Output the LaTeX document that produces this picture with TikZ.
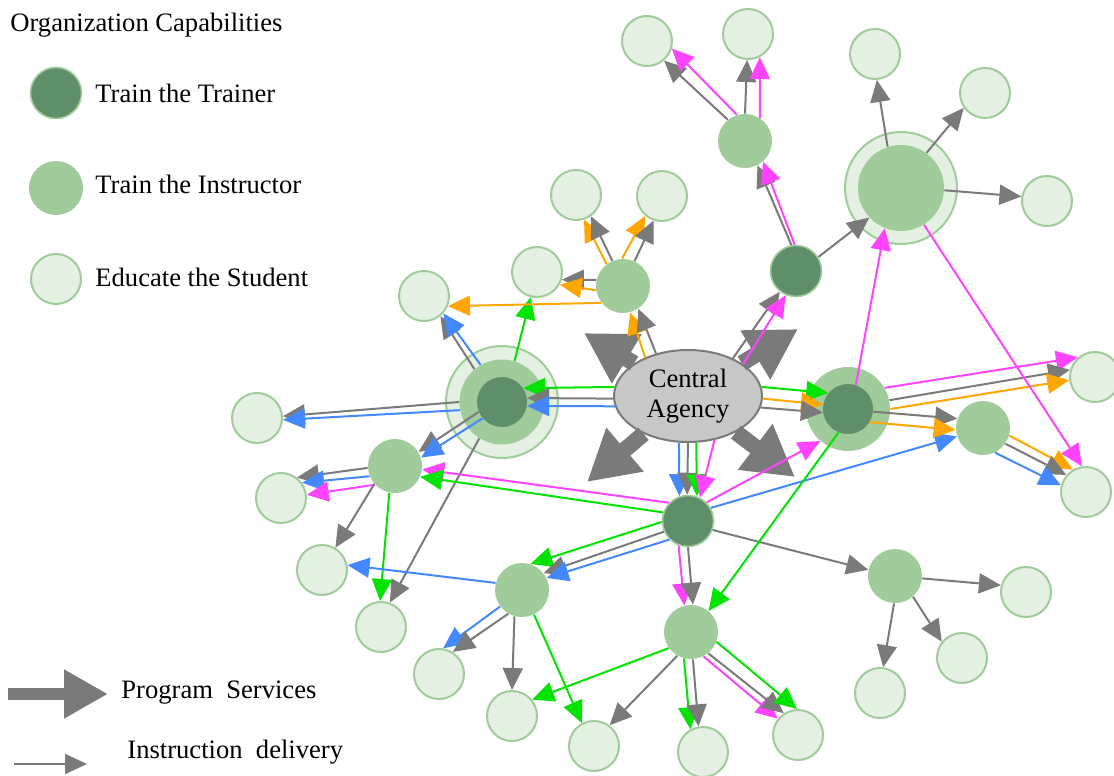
\documentclass[tikz,border=0pt]{standalone}
\usepackage{fontspec}
\setmainfont{Liberation Serif}
\usetikzlibrary{arrows.meta,shapes.geometric}
\definecolor{darkgr}{RGB}{94,143,106}
\definecolor{midgr}{RGB}{160,203,154}
\definecolor{palegr}{RGB}{228,240,226}
\definecolor{lgray}{RGB}{122,122,122}
\definecolor{agfill}{RGB}{200,200,200}
\definecolor{lmag}{RGB}{255,68,255}
\definecolor{lgrn}{RGB}{0,228,0}
\definecolor{lblu}{RGB}{68,136,255}
\definecolor{lorg}{RGB}{255,166,0}

\begin{document}
\begin{tikzpicture}[x=0.5pt,y=-0.5pt,
	font=\fontsize{13.3}{15}\selectfont,
	student/.style={circle,fill=palegr,draw=midgr,line width=1pt,minimum size=25pt,inner sep=0pt},
	instructor/.style={circle,fill=midgr,minimum size=27pt,inner sep=0pt},
	trainer/.style={circle,fill=darkgr,draw=midgr,line width=0.8pt,minimum size=25.5pt,inner sep=0pt},
	core/.style={circle,fill=darkgr,minimum size=25pt,inner sep=0pt},
	ring/.style={circle,fill=midgr,minimum size=#1,inner sep=0pt},
	halo/.style={circle,fill=palegr,draw=midgr,line width=1pt,minimum size=#1,inner sep=0pt},
	agency/.style={ellipse,fill=agfill,draw=lgray,line width=1pt,minimum width=74pt,minimum height=46pt,inner sep=0pt,align=center},
	lbl/.style={anchor=west,inner sep=0pt},
	link/.style={line width=1pt,-{Triangle[length=11pt,width=10pt]}},
	gry/.style={link,draw=lgray},
	mag/.style={link,draw=lmag},
	grn/.style={link,draw=lgrn},
	blu/.style={link,draw=lblu},
	org/.style={link,draw=lorg},
	big/.style={draw=lgray,line width=6pt,-{Triangle[length=22pt,width=23pt]}},
	bigmain/.style={draw=lgray,line width=8pt,-{Triangle[length=25pt,width=27pt]}}]
	\useasboundingbox (0,0) rectangle (1114,776);

	\node[lbl] (title) at (10,25) {Organization Capabilities};
	\node[trainer] (L1) at (56,93) {};
	\node[instructor] (L2) at (56,188) {};
	\node[student] (L3) at (56,279) {};
	\node[lbl] (t1) at (95,93) {Train the Trainer};
	\node[lbl] (t2) at (95,184) {Train the Instructor};
	\node[lbl] (t3) at (95,277) {Educate the Student};
	\coordinate (pa1) at (8,694);
	\coordinate (pa2) at (108,694);
	\draw[big] (pa1) -- (pa2);
	\node[lbl] (t4) at (121,693) {Program~ Services};
	\coordinate (ia1) at (14,764);
	\coordinate (ia2) at (87,764);
	\draw[gry] (ia1) -- (ia2);
	\node[lbl] (t5) at (127,752) {Instruction~ delivery};

	\node[agency] (CA) at (688,396) {Central\\Agency};
	\node[halo=56pt] (T1o) at (502,402) {};
	\node[ring=42.5pt] (T1m) at (502,402) {};
	\node[core] (T1) at (502,402) {};
	\node[ring=42pt] (T2m) at (848,409) {};
	\node[core] (T2) at (848,409) {};
	\node[trainer] (T3) at (688,521) {};
	\node[trainer] (T4) at (796,271) {};
	\node[halo=56pt] (I8o) at (901,188) {};
	\node[ring=43pt] (I8) at (901,188) {};

	\node[instructor] (I1) at (623,286) {};
	\node[instructor] (I2) at (745,141) {};
	\node[instructor] (I3) at (395,466) {};
	\node[instructor] (I4) at (983,428) {};
	\node[instructor] (I5) at (522,590) {};
	\node[instructor] (I6) at (691,632) {};
	\node[instructor] (I7) at (895,576) {};

	\node[student] (S1) at (647,41) {};
	\node[student] (S2) at (748,34) {};
	\node[student] (S3) at (875,54) {};
	\node[student] (S4) at (985,93) {};
	\node[student] (S5) at (1047,201) {};
	\node[student] (S6) at (576,195) {};
	\node[student] (S7) at (662,196) {};
	\node[student] (S8) at (537,272) {};
	\node[student] (S9) at (424,296) {};
	\node[student] (S10) at (257,418) {};
	\node[student] (S11) at (281,498) {};
	\node[student] (S12) at (322,570) {};
	\node[student] (S13) at (381,627) {};
	\node[student] (S14) at (439,674) {};
	\node[student] (S15) at (512,716) {};
	\node[student] (S16) at (594,746) {};
	\node[student] (S17) at (703,752) {};
	\node[student] (S18) at (798,735) {};
	\node[student] (S19) at (1026,592) {};
	\node[student] (S20) at (962,658) {};
	\node[student] (S21) at (880,693) {};
	\node[student] (S22) at (1095,377) {};
	\node[student] (S23) at (1086,492) {};

	\coordinate (pnw) at (584,333);
	\coordinate (pne) at (798,329);
	\coordinate (psw) at (587,482);
	\coordinate (pse) at (795,477);
	\draw[bigmain] (CA) -- (pnw);
	\draw[bigmain] (CA) -- (pne);
	\draw[bigmain] (CA) -- (psw);
	\draw[bigmain] (CA) -- (pse);

	\draw[grn] (CA.173) -- (T1.33);
	\draw[gry] (CA.182) -- (T1.9);
	\draw[blu] (CA.188) -- (T1.-9);
	\draw[grn] (CA.7) -- (T2.141);
	\draw[org] (CA.-2) -- (T2.170);
	\draw[gry] (CA.-9) -- (T2.188);
	\draw[blu] (CA.-101) -- (T3.109);
	\draw[gry] (CA.-90) -- (T3.92);
	\draw[grn] (CA.-80) -- (T3.70);
	\draw[mag] (CA.-59) -- (T3.63);
	\draw[org] (CA.138) -- (I1.-75);
	\draw[gry] (CA.127) -- (I1.-56);
	\draw[gry] (CA.40) -- (T4.-128);
	\draw[mag] (CA.30) -- (T4.-113);

	\draw[gry] (T1m.180) -- (S10.4);
	\draw[blu] (T1m.191) -- (S10.-4);
	\draw[gry] (T1m.130) -- (S9.-51);
	\draw[blu] (T1m.120) -- (S9.-42);
	\draw[grn] (T1m.73) -- (S8.-104);
	\draw[gry] (T1.203) -- (I3.31);
	\draw[blu] (T1.220) -- (I3.18);
	\draw[gry] (T1m.238) -- (S13.70);

	\draw[gry] (I3.184) -- (S11.52);
	\draw[blu] (I3.202) -- (S11.36);
	\draw[mag] (I3.223) -- (S11.7);
	\draw[gry] (I3.221) -- (S12.59);
	\draw[grn] (I3.-102) -- (S13.92);

	\draw[mag] (T3.136) -- (I3.-7);
	\draw[grn] (T3.161) -- (I3.-23);
	\draw[grn] (T3.182) -- (I5.72);
	\draw[gry] (T3.204) -- (I5.38);
	\draw[blu] (T3.225) -- (I5.26);
	\draw[mag] (T3.-111) -- (I6.104);
	\draw[gry] (T3.-90) -- (I6.86);
	\draw[gry] (T3.-20) -- (I7.167);
	\draw[mag] (T3.45) -- (T2m.-131);
	\draw[blu] (T3.30) -- (I4.-162);
	\draw[grn] (T2.-112) -- (I6.50);

	\draw[mag] (T2m.30) -- (S22.131);
	\draw[gry] (T2m.12) -- (S22.164);
	\draw[org] (T2m.0) -- (S22.187);
	\draw[gry] (T2.-6) -- (I4.160);
	\draw[org] (T2.-31) -- (I4.184);
	\draw[mag] (T2.72) -- (I8.-112);

	\draw[org] (I4.-16) -- (S23.120);
	\draw[gry] (I4.-35) -- (S23.139);
	\draw[blu] (I4.-64) -- (S23.165);

	\draw[mag] (I8.-58) -- (S23.99);
	\draw[gry] (I8.108) -- (S3.-86);
	\draw[gry] (I8.54) -- (S4.-145);
	\draw[gry] (I8.-3) -- (S5.170);

	\draw[gry] (T4.100) -- (I2.-63);
	\draw[mag] (T4.93) -- (I2.-49);
	\draw[gry] (T4.32) -- (I8.-137);

	\draw[gry] (I2.129) -- (S1.-49);
	\draw[mag] (I2.107) -- (S1.-17);
	\draw[gry] (I2.90) -- (S2.-92);
	\draw[mag] (I2.57) -- (S2.-63);

	\draw[org] (I1.127) -- (S6.-72);
	\draw[gry] (I1.113) -- (S6.-55);
	\draw[org] (I1.92) -- (S7.-130);
	\draw[gry] (I1.65) -- (S7.-109);
	\draw[gry] (I1.167) -- (S8.-17);
	\draw[org] (I1.189) -- (S8.-29);
	\draw[org] (I1.218) -- (S9.-23);

	\draw[blu] (I5.165) -- (S12.11);
	\draw[blu] (I5.217) -- (S14.81);
	\draw[gry] (I5.240) -- (S14.58);
	\draw[gry] (I5.-106) -- (S15.90);
	\draw[grn] (I5.-64) -- (S16.118);

	\draw[grn] (I6.216) -- (S15.39);
	\draw[gry] (I6.240) -- (S16.53);
	\draw[grn] (I6.-105) -- (S17.119);
	\draw[gry] (I6.-86) -- (S17.100);
	\draw[mag] (I6.-63) -- (S18.141);
	\draw[gry] (I6.-51) -- (S18.123);
	\draw[grn] (I6.-21) -- (S18.92);

	\draw[gry] (I7.-5) -- (S19.165);
	\draw[gry] (I7.-49) -- (S20.141);
	\draw[gry] (I7.-92) -- (S21.83);
\end{tikzpicture}
\end{document}
